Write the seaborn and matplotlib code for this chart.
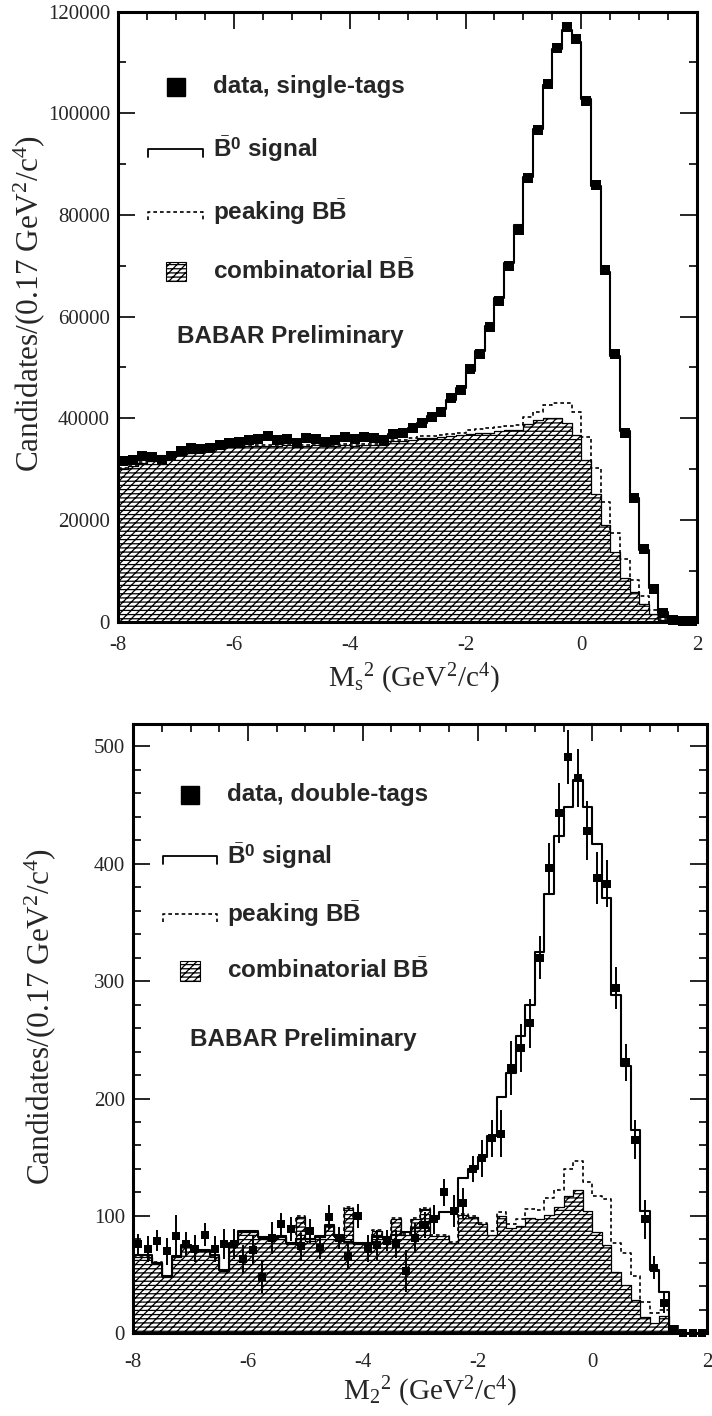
import numpy as np
import matplotlib
matplotlib.use('Agg')
import matplotlib.pyplot as plt
from matplotlib.patches import Rectangle
from matplotlib.ticker import MultipleLocator, StrMethodFormatter
import seaborn as sns

# 60 bins of 1/6 GeV^2 between -8 and 2
x_edges = np.linspace(-8, 2, 61)
x_centers = (x_edges[:-1] + x_edges[1:]) / 2
bin_list = x_edges.tolist()

# ---- single-tag sample (top panel), candidates per bin ----
data_single = [31500, 31800, 32500, 32400, 31800, 32600, 33600, 34100, 34000, 34100,
               34800, 35200, 35300, 35700, 35900, 36500, 35700, 35900, 35100, 36100,
               35900, 35400, 35700, 36300, 35900, 36300, 36100, 35800, 37000, 37100,
               38000, 39000, 40300, 41200, 43900, 45500, 49600, 52700, 57900, 63000,
               70000, 77100, 87200, 96700, 105800, 112900, 116900, 114600, 102500, 85800,
               69100, 52700, 37200, 24300, 14300, 6400, 1700, 400, 200, 100]
total_single = [31200, 31700, 32200, 32400, 32500, 32800, 33400, 33900, 34100, 34300,
                34700, 35000, 35200, 35500, 35700, 35900, 35800, 35800, 35700, 35900,
                35900, 35800, 35900, 36100, 36100, 36300, 36300, 36400, 36900, 37300,
                38100, 39100, 40400, 41800, 43600, 45900, 49300, 53200, 58200, 63700,
                70600, 78100, 87400, 96900, 105600, 112700, 116400, 114100, 102800, 85600,
                68700, 52300, 37500, 24400, 14100, 6600, 1900, 500, 200, 100]
peak_comb_single = [30200, 30800, 31400, 31700, 32000, 32600, 33000, 33400, 33800, 34100,
                    34300, 34500, 34500, 34700, 34700, 34800, 34700, 34900, 34800, 34700,
                    34900, 34800, 34800, 34900, 34800, 35000, 34900, 35000, 35700, 35800,
                    36200, 36500, 36600, 36800, 37000, 37200, 37700, 37900, 38000, 38200,
                    38400, 38700, 40200, 41200, 42600, 43000, 43000, 41200, 36400, 30200,
                    23600, 17400, 12400, 8100, 5000, 2300, 600, 200, 0, 0]
comb_single = [30000, 30600, 31200, 31500, 31800, 32400, 32800, 33200, 33600, 33900,
               34100, 34300, 34300, 34500, 34500, 34600, 34500, 34700, 34600, 34500,
               34700, 34600, 34600, 34700, 34600, 34800, 34700, 34800, 35500, 35600,
               35800, 36100, 36200, 36400, 36600, 36800, 37000, 37200, 37200, 37500,
               37700, 37700, 38900, 39600, 40000, 40000, 39100, 36800, 31800, 25200,
               19000, 13600, 8500, 5800, 3500, 1500, 400, 100, 0, 0]

# ---- double-tag sample (bottom panel) ----
data_double = [76, 72, 79, 70, 83, 76, 72, 84, 72, 76,
               76, 63, 71, 48, 81, 93, 89, 74, 87, 73,
               99, 81, 66, 100, 72, 75, 79, 76, 53, 81,
               92, 97, 120, 104, 111, 140, 149, 166, 170, 226,
               243, 264, 320, 396, 443, 491, 473, 428, 388, 383,
               294, 231, 165, 97, 56, 26, 4, 0, 0, 0]
err_double = [8.6, 11, 9.3, 11.4, 17.9, 10, 11.4, 9.7, 11, 12.9,
              12.7, 12.1, 12.9, 13.6, 13.6, 9.7, 10, 11.4, 10, 9.3,
              10.3, 9.3, 10.7, 10.4, 11.4, 12.9, 9.3, 12.1, 17.9, 12.9,
              11, 12, 11.4, 13.6, 12.9, 11.4, 15.7, 16, 20, 22.6,
              20.7, 20.7, 18.6, 21.4, 25.4, 23.1, 24.3, 25, 22.1, 20.3,
              18.1, 15.7, 16.4, 16.4, 10, 8.6, 3, 0, 0, 0]
total_double = [67, 67, 60, 49, 66, 75, 71, 71, 67, 54,
                77, 87, 87, 82, 82, 83, 77, 80, 80, 83,
                92, 83, 78, 77, 77, 82, 82, 84, 86, 90,
                95, 97, 103, 103, 132, 140, 150, 168, 201, 222,
                253, 280, 325, 374, 424, 448, 471, 448, 417, 371,
                288, 228, 173, 104, 54, 35, 2, 0, 0, 0]
peak_comb_double = [66, 66, 61, 49, 66, 75, 71, 71, 66, 54,
                    77, 87, 87, 82, 82, 83, 77, 100, 80, 83,
                    92, 83, 108, 77, 77, 88, 82, 98, 85, 98,
                    107, 84, 84, 78, 102, 100, 94, 87, 103, 93,
                    97, 106, 105, 115, 122, 140, 147, 129, 117, 114,
                    77, 68, 49, 27, 17, 20, 0, 0, 0, 0]
comb_double = [65, 65, 60, 48, 65, 74, 70, 70, 65, 53,
               76, 86, 86, 81, 81, 82, 76, 99, 79, 82,
               91, 82, 107, 76, 76, 87, 81, 97, 84, 97,
               106, 83, 83, 77, 101, 99, 93, 84, 100, 90,
               91, 98, 97, 101, 108, 117, 122, 104, 86, 75,
               52, 41, 28, 14, 9, 15, 0, 0, 0, 0]

sns.set_style('ticks')
plt.rcParams['font.family'] = ['Liberation Serif', 'DejaVu Serif']
plt.rcParams['mathtext.fontset'] = 'custom'
plt.rcParams['mathtext.rm'] = 'Liberation Serif'
plt.rcParams['mathtext.it'] = 'Liberation Serif:italic'
plt.rcParams['mathtext.bf'] = 'Liberation Sans:bold'
plt.rcParams['axes.unicode_minus'] = False
plt.rcParams['hatch.linewidth'] = 0.9

HATCH = '----////'
KEYFONT = dict(family='Liberation Sans', weight='bold', fontsize=17.5)

fig = plt.figure(figsize=(7.12, 14.16), dpi=100)
ax1 = fig.add_axes([0.1662, 0.5610, 0.8128, 0.4308])
ax2 = fig.add_axes([0.1872, 0.0584, 0.8058, 0.4303])


def draw_hists(ax, comb, peak_comb, total):
    sns.histplot(x=x_centers, weights=comb, bins=bin_list, element='step', fill=True,
                 facecolor='white', edgecolor='black', hatch=HATCH, linewidth=0.9, ax=ax)
    sns.histplot(x=x_centers, weights=peak_comb, bins=bin_list, element='step', fill=False,
                 color='black', linewidth=1.2, linestyle=(0, (2.2, 1.8)), ax=ax)
    sns.histplot(x=x_centers, weights=total, bins=bin_list, element='step', fill=False,
                 color='black', linewidth=1.5, ax=ax)


def draw_key(ax, labels, ys, mx, lx0, lx1, bx0, bx1, tx, babar_xy, ms):
    tr = ax.transAxes
    ax.plot([mx], [ys[0]], 's', color='black', ms=ms, transform=tr, clip_on=False)
    # histogram style symbols: line with small end ticks
    ax.plot([lx0, lx0, lx1, lx1], [ys[1] - 0.013, ys[1], ys[1], ys[1] - 0.013],
            color='black', lw=1.3, transform=tr)
    ax.plot([lx0, lx0, lx1, lx1], [ys[2] - 0.013, ys[2], ys[2], ys[2] - 0.013],
            color='black', lw=1.2, ls=(0, (2.2, 1.8)), transform=tr)
    ax.add_patch(Rectangle((bx0, ys[3] - 0.016), bx1 - bx0, 0.032, transform=tr,
                           facecolor='white', edgecolor='black', hatch=HATCH, lw=0.8))
    for y, lab in zip(ys, labels):
        ax.text(tx, y, lab, transform=tr, ha='left', va='center', **KEYFONT)
    ax.text(babar_xy[0], babar_xy[1], 'BABAR Preliminary', transform=tr,
            ha='left', va='center', **KEYFONT)


def style_axes(ax, ymax, ymaj, ymin, xpad):
    ax.set_xlim(-8, 2)
    ax.set_ylim(0, ymax)
    ax.xaxis.set_major_locator(MultipleLocator(2))
    ax.xaxis.set_minor_locator(MultipleLocator(0.5))
    ax.yaxis.set_major_locator(MultipleLocator(ymaj))
    ax.yaxis.set_minor_locator(MultipleLocator(ymin))
    ax.xaxis.set_major_formatter(StrMethodFormatter('{x:.0f}'))
    ax.yaxis.set_major_formatter(StrMethodFormatter('{x:.0f}'))
    ax.tick_params(which='both', direction='in', top=True, right=True, width=1.2,
                   labelsize=15, color='black')
    ax.tick_params(which='major', length=12)
    ax.tick_params(which='minor', length=6)
    ax.tick_params(axis='x', pad=xpad)
    ax.tick_params(axis='y', pad=6)
    for s in ax.spines.values():
        s.set_linewidth(2.2)
        s.set_color('black')
        s.set_zorder(6)


ylab = 'Candidates/(0.17 GeV$^2$/c$^4$)'

# Top panel: single tags
draw_hists(ax1, comb_single, peak_comb_single, total_single)
sns.scatterplot(x=x_centers, y=data_single, marker='s', s=58, color='black',
                linewidth=0, ax=ax1, clip_on=False, zorder=5)
style_axes(ax1, 120000, 20000, 10000, 10)
ax1.set_ylabel(ylab, fontsize=22.5)
ax1.set_xlabel('M$_{\\rm s}$$^2$ (GeV$^2$/c$^4$)', fontsize=21)
ax1.yaxis.set_label_coords(-0.123, 0.521)
ax1.xaxis.set_label_coords(0.51, -0.066)
draw_key(ax1,
         ['data, single-tags', r'$\bar{\mathbf{B}}^{\mathbf{0}}$ signal',
          r'peaking B$\bar{\mathbf{B}}$', r'combinatorial B$\bar{\mathbf{B}}$'],
         [0.877, 0.774, 0.672, 0.574], 0.100, 0.052, 0.147, 0.082, 0.117, 0.163,
         (0.102, 0.468), 13)

# Bottom panel: double tags
draw_hists(ax2, comb_double, peak_comb_double, total_double)
ax2.errorbar(x_centers, data_double, yerr=err_double, fmt='none', ecolor='black',
             elinewidth=1.4, capsize=0, zorder=4)
sns.scatterplot(x=x_centers, y=data_double, marker='s', s=30, color='black',
                linewidth=0, ax=ax2, clip_on=False, zorder=5)
style_axes(ax2, 519, 100, 20, 14)
ax2.set_ylabel(ylab, fontsize=22.5)
ax2.set_xlabel('M$_2$$^2$ (GeV$^2$/c$^4$)', fontsize=21)
ax2.yaxis.set_label_coords(-0.132, 0.52)
ax2.xaxis.set_label_coords(0.517, -0.068)
draw_key(ax2,
         ['data, double-tags', r'$\bar{\mathbf{B}}^{\mathbf{0}}$ signal',
          r'peaking B$\bar{\mathbf{B}}$', r'combinatorial B$\bar{\mathbf{B}}$'],
         [0.8836, 0.7837, 0.6886, 0.5950], 0.0988, 0.052, 0.146, 0.0814, 0.1162, 0.1628,
         (0.0988, 0.4815), 13)

fig.savefig('out.png', dpi=100)
